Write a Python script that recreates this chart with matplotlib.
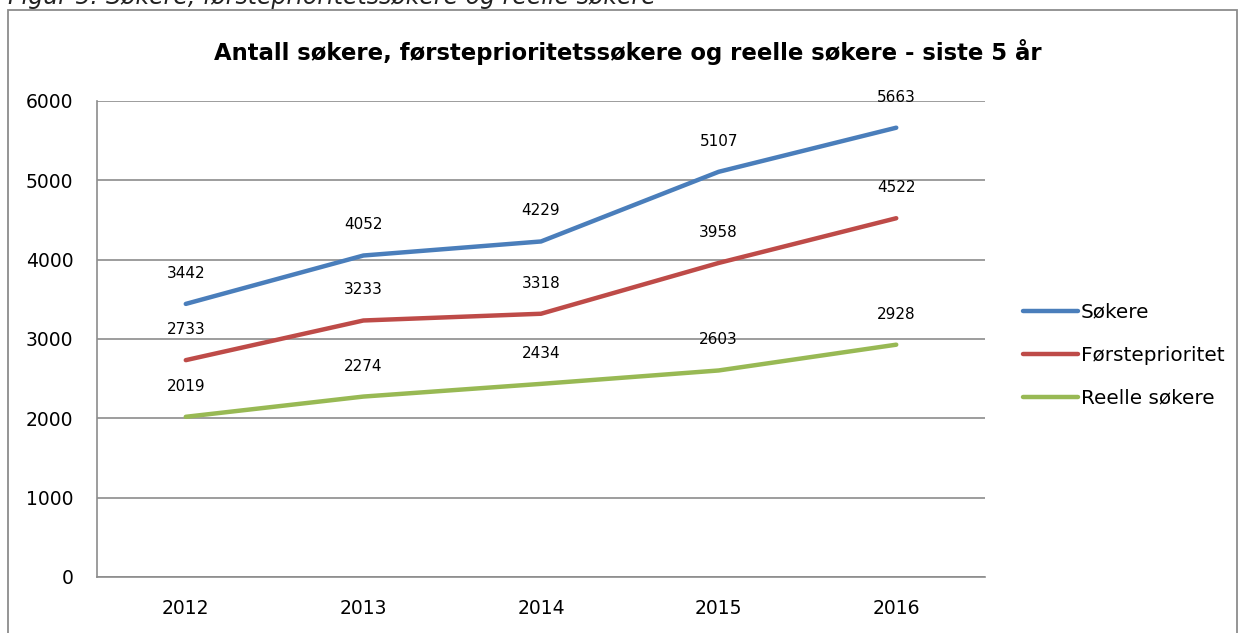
import matplotlib
matplotlib.use('Agg')
from matplotlib import pyplot as plt
from matplotlib.patches import Rectangle

years = ['2012', '2013', '2014', '2015', '2016']
sokere = [3442, 4052, 4229, 5107, 5663]
forsteprioritet = [2733, 3233, 3318, 3958, 4522]
reelle = [2019, 2274, 2434, 2603, 2928]
series_names = ['Søkere', 'Førsteprioritet', 'Reelle søkere']
colors = ['#4A7EBB', '#BE4B48', '#98B954']

plt.rcParams['font.family'] = ['DejaVu Sans']

fig = plt.figure(figsize=(12.4, 6.33), dpi=100)
ax = fig.add_axes([0.0782, 0.0885, 0.7162, 0.752])

# outer chart frame
fig.patches.append(Rectangle((8/1240, -0.05), (1237-8)/1240, 1 - 10/633 + 0.05,
                             transform=fig.transFigure, fill=False,
                             edgecolor='#8c8c8c', linewidth=1.3))

# caption above the frame (cut off at the top like the source)
fig.text(8/1240, 1 - 4/633, 'Figur 5: Søkere, førsteprioritetssøkere og reelle søkere',
         fontsize=17, style='italic', va='baseline', ha='left', color='#222222')

x = range(len(years))
for vals, name, col in zip([sokere, forsteprioritet, reelle], series_names, colors):
    ax.plot(x, vals, color=col, linewidth=3.2, label=name, solid_capstyle='round')
    for xi, v in zip(x, vals):
        ax.annotate(str(v), (xi, v), xytext=(0, 22), textcoords='offset points',
                    ha='center', va='center', fontsize=11)

ax.set_xlim(-0.5, 4.5)
ax.set_ylim(0, 6000)
ax.set_yticks(range(0, 6001, 1000))
ax.set_xticks(list(x))
ax.set_xticklabels(years)
ax.tick_params(length=0, labelsize=13.5, pad=16)
ax.tick_params(axis='y', pad=17)
ax.yaxis.grid(True, color='#8c8c8c', linewidth=1.2)
ax.set_axisbelow(True)
for s in ['top', 'right']:
    ax.spines[s].set_visible(False)
for s in ['left', 'bottom']:
    ax.spines[s].set_color('#8c8c8c')
    ax.spines[s].set_linewidth(1.2)

fig.text(628/1240, 1 - 52/633, 'Antall søkere, førsteprioritetssøkere og reelle søkere - siste 5 år',
         fontsize=16.4, fontweight='bold', ha='center', va='center')

ax.legend(loc='center left', bbox_to_anchor=(1.022, 0.466), frameon=False, fontsize=14.4,
          handlelength=2.75, handletextpad=0.15, labelspacing=1.2)

fig.savefig('out.png', dpi=100)
